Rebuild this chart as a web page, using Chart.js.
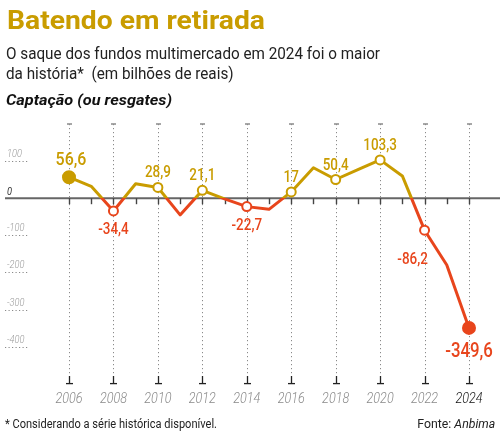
<!DOCTYPE html>
<html><head><meta charset="utf-8">
<script src="https://cdn.jsdelivr.net/npm/chart.js@4.4.1/dist/chart.umd.min.js"></script>
<style>
html,body{margin:0;padding:0;background:#fff;}
#wrap{position:relative;width:500px;height:439px;overflow:hidden;font-family:Roboto,"Noto Sans",sans-serif;}
#cbox{position:absolute;left:0;top:0;width:500px;height:439px;}
.t{position:absolute;white-space:nowrap;line-height:1;transform-origin:0 0;}
#title{left:7px;top:8px;font-size:25px;font-weight:700;color:#C99C00;}
#sub1{left:6px;top:44.7px;font-size:17px;color:#222;}
#sub2{left:6px;top:64.7px;font-size:17px;color:#222;}
#sect{left:6px;top:93.4px;font-size:15px;font-weight:700;font-style:italic;color:#111;}
#foot{left:5px;top:417.5px;font-size:12.5px;color:#222;}
#fonte{right:5px;top:417.5px;font-size:12.5px;color:#222;transform-origin:100% 0;}
</style></head>
<body>
<div id="wrap">
  <div id="cbox"><canvas id="c"></canvas></div>
  <div class="t" id="title">Batendo em retirada</div>
  <div class="t" id="sub1">O saque dos fundos multimercado em 2024 foi o maior</div>
  <div class="t" id="sub2">da história*&nbsp; (em bilhões de reais)</div>
  <div class="t" id="sect">Captação (ou resgates)</div>
  <div class="t" id="foot">* Considerando a série histórica disponível.</div>
  <div class="t" id="fonte">Fonte: <i>Anbima</i></div>
</div>
<script>
// ---- data ----
const years = [2006,2007,2008,2009,2010,2011,2012,2013,2014,2015,2016,2017,2018,2019,2020,2021,2022,2023,2024];
const values = [56.6,32,-34.4,39,28.9,-45,21.1,-2,-22.7,-30,17,82,50.4,77,103.3,60,-86.2,-180,-349.6];
const labeledYears = [2006,2008,2010,2012,2014,2016,2018,2020,2022,2024];
const xTickLabels = ['2006','2008','2010','2012','2014','2016','2018','2020','2022','2024'];
const yTickValues = [100,0,-100,-200,-300,-400];
const yTickLabels = ['100','0','-100','-200','-300','-400'];

const GOLD = '#C99C00', RED = '#E8451C';

// fit HTML text widths
function fit(id, w){const el=document.getElementById(id);const nw=el.getBoundingClientRect().width;el.style.transform='scaleX('+(w/nw)+')';return w/nw;}
document.fonts.ready.then(()=>{
  fit('title',258);
  const s=fit('sub1',374);
  document.getElementById('sub2').style.transform='scaleX('+s+')';
  fit('sect',166);
  fit('foot',212);
  fit('fonte',78);
});

const fmt = v => String(v).replace('.',',');
const SX = 0.84;
function drawText(ctx, txt, x, y, font, color, align){
  ctx.save();
  ctx.font = font; ctx.fillStyle = color; ctx.textBaseline = 'alphabetic';
  const w = ctx.measureText(txt).width * SX;
  let x0 = x;
  if(align==='center') x0 = x - w/2; else if(align==='right') x0 = x - w;
  ctx.translate(x0, y); ctx.scale(SX,1);
  ctx.textAlign='left';
  ctx.fillText(txt, 0, 0);
  ctx.restore();
}

const decor = {
  id:'decor',
  beforeDatasetsDraw(chart){
    const ctx = chart.ctx, xs = chart.scales.x, ys = chart.scales.y;
    const top = chart.chartArea.top, bottom = chart.chartArea.bottom;
    const y0 = ys.getPixelForValue(0);
    ctx.save();
    // vertical dotted grid lines at labeled years
    labeledYears.forEach(yr=>{
      const x = Math.round(xs.getPixelForValue(yr))+0.5;
      ctx.strokeStyle='#8a8a8a'; ctx.lineWidth=1; ctx.setLineDash([1.2,2.8]);
      ctx.beginPath(); ctx.moveTo(x, top); ctx.lineTo(x, bottom-4); ctx.stroke();
      ctx.setLineDash([]);
      ctx.strokeStyle='#8a8a8a'; ctx.lineWidth=1.5;
      ctx.beginPath(); ctx.moveTo(x-2.5, top); ctx.lineTo(x+2.5, top); ctx.stroke();
      // bottom ⊥ mark
      ctx.strokeStyle='#222'; ctx.lineWidth=1.3;
      ctx.beginPath(); ctx.moveTo(x, bottom-4); ctx.lineTo(x, bottom+4); ctx.stroke();
      ctx.beginPath(); ctx.moveTo(x-3.5, bottom+3.6); ctx.lineTo(x+3.5, bottom+3.6); ctx.stroke();
    });
    // y tick stubs + labels
    yTickValues.forEach((v,i)=>{
      const y = Math.round(ys.getPixelForValue(v))+0.5;
      if(v!==0){
        ctx.strokeStyle='#8a8a8a'; ctx.lineWidth=1; ctx.setLineDash([1.2,2.3]);
        ctx.beginPath(); ctx.moveTo(5, y); ctx.lineTo(28, y); ctx.stroke();
        ctx.setLineDash([]);
        drawText(ctx, yTickLabels[i], 7, y-4.5, 'italic 300 11px Roboto', '#9a9a9a', 'left');
      } else {
        drawText(ctx, yTickLabels[i], 7, y-3.5, 'italic 400 11px Roboto', '#333', 'left');
      }
    });
    // zero line
    ctx.strokeStyle='#666'; ctx.lineWidth=2;
    ctx.beginPath(); ctx.moveTo(5, y0); ctx.lineTo(500, y0); ctx.stroke();
    // year ticks on zero line
    years.forEach(yr=>{
      const x = Math.round(xs.getPixelForValue(yr))+0.5;
      ctx.strokeStyle='#444'; ctx.lineWidth=1.4;
      ctx.beginPath(); ctx.moveTo(x, y0); ctx.lineTo(x, y0+6); ctx.stroke();
    });
    // x labels
    xTickLabels.forEach((lab,i)=>{
      const x = xs.getPixelForValue(labeledYears[i]);
      const col = i===xTickLabels.length-1 ? '#111' : '#8a8a8a';
      drawText(ctx, lab, x, bottom+23, 'italic 300 15px Roboto', col, 'center');
    });
    ctx.restore();
  },
  afterDatasetsDraw(chart){
    const ctx = chart.ctx, xs = chart.scales.x, ys = chart.scales.y;
    labeledYears.forEach(yr=>{
      const i = years.indexOf(yr), v = values[i];
      const x = xs.getPixelForValue(yr), y = ys.getPixelForValue(v);
      const col = v>=0 ? GOLD : RED;
      let font = '500 16px Roboto', dx = 0, dy = v>=0 ? -10 : 23;
      if(yr===2006){ font='500 19px Roboto'; dx=2; dy=-12; }
      if(yr===2024){ font='500 20px Roboto'; dy=29; }
      if(yr===2022){ dx=-12; dy=34; }
      drawText(ctx, fmt(v), x+dx, y+dy, font, col, 'center');
    });
  }
};

const ptRadius = years.map(y => labeledYears.includes(y) ? ((y===2006||y===2024)?6:4.5) : 0);
const ptBg = years.map((y,i) => (y===2006||y===2024) ? (values[i]>=0?GOLD:RED) : '#fff');
const ptBorder = values.map(v => v>=0?GOLD:RED);

new Chart(document.getElementById('c'), {
  type:'line',
  data:{
    labels: years,
    datasets:[{
      data: years.map((y,i)=>({x:y, y:values[i]})),
      borderWidth:3,
      tension:0,
      borderJoinStyle:'round',
      borderColor: (c)=>{
        const ch=c.chart, ca=ch.chartArea;
        if(!ca) return GOLD;
        const y0=ch.scales.y.getPixelForValue(0);
        const f=Math.min(1,Math.max(0,(y0-ca.top)/(ca.bottom-ca.top)));
        const g=ch.ctx.createLinearGradient(0,ca.top,0,ca.bottom);
        g.addColorStop(0,GOLD); g.addColorStop(f,GOLD); g.addColorStop(f,RED); g.addColorStop(1,RED);
        return g;
      },
      pointRadius: ptRadius,
      pointBackgroundColor: ptBg,
      pointBorderColor: ptBorder,
      pointBorderWidth: 2,
      clip:false
    }]
  },
  options:{
    responsive:true, maintainAspectRatio:false, animation:false,
    devicePixelRatio: window.devicePixelRatio,
    layout:{padding:{left:69,right:31,top:124,bottom:59}},
    plugins:{legend:{display:false},tooltip:{enabled:false}},
    events:[],
    scales:{
      x:{type:'linear',min:2006,max:2024,display:false},
      y:{type:'linear',min:-490,max:200,display:false}
    }
  },
  plugins:[decor]
});
</script>
</body></html>
